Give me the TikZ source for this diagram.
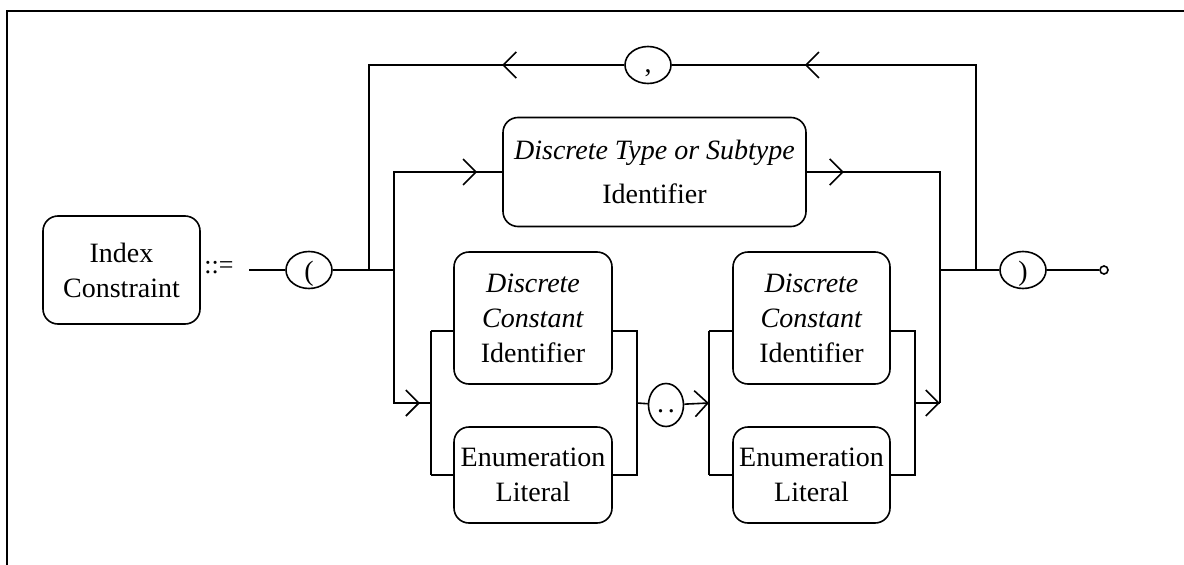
\documentclass[tikz,border=0pt]{standalone}
\usepackage{fontspec}
\setmainfont{Liberation Serif}
\usetikzlibrary{shapes, arrows.meta, positioning, calc, decorations.markings}

\tikzset{
  rail/.style={line width=1.6pt},
  synbox/.style={draw, rail, rounded corners=15pt, align=center, inner sep=0pt,
    font=\fontsize{28}{35}\selectfont},
  term/.style={draw, rail, ellipse, inner sep=0pt, minimum width=46pt, minimum height=37pt,
    font=\fontsize{28}{35}\selectfont},
  arrowat/.style={postaction={decorate}, decoration={markings,
    mark=at position #1 with {\arrow[line width=1.6pt]{Straight Barb[length=13pt, width=26pt]}}}}
}
\newcommand{\lowered}[2]{\raisebox{-#1}[\height][\depth]{#2}}

\begin{document}
\begin{tikzpicture}[x=1pt, y=-1pt]
  \useasboundingbox (0,0) rectangle (1184,565);
  \draw[line width=2.4pt] (7,565) -- (7,11) -- (1184,11);

  % left side of the rule
  \node[synbox, minimum width=157pt, minimum height=108pt] (ic) at (121.5,270) {Index\\Constraint};
  \node[font=\fontsize{26}{30}\selectfont, inner sep=0pt] (defs) at (219,268) {::=};
  \coordinate (start) at (249,270);
  \node[term] (lp) at (309,270) {\lowered{4pt}{(}};
  \node[term] (comma) at (648,65) {\lowered{8pt}{,}};
  \node[term] (rp) at (1023,270) {\lowered{4pt}{)}};
  \node[draw, rail, circle, inner sep=0pt, minimum size=8pt] (stop) at (1104,270) {};

  % alternatives
  \node[synbox, minimum width=303pt, minimum height=109pt] (dts) at (654.5,172)
    {\textit{Discrete Type or Subtype}\\[9pt]Identifier};
  \node[synbox, minimum width=158pt, minimum height=132pt] (dc1) at (533,318)
    {\textit{Discrete}\\\textit{Constant}\\Identifier};
  \node[synbox, minimum width=158pt, minimum height=96pt] (el1) at (533,475) {Enumeration\\Literal};
  \node[term, minimum width=35pt, minimum height=43pt] (dots) at (666,405) {\lowered{6pt}{.\kern4pt.}};
  \node[synbox, minimum width=157pt, minimum height=132pt] (dc2) at (811.5,318)
    {\textit{Discrete}\\\textit{Constant}\\Identifier};
  \node[synbox, minimum width=157pt, minimum height=96pt] (el2) at (811.5,475) {Enumeration\\Literal};

  \coordinate (j1) at (369,270);
  \coordinate (j2) at (394,270);
  \coordinate (jr0) at (940,403);
  \coordinate (jr1) at (940,270);
  \coordinate (jr2) at (976,270);
  \coordinate (la) at (431,403);
  \coordinate (la1) at (431,331);
  \coordinate (la2) at (431,475);
  \coordinate (lb) at (637,403);
  \coordinate (lb1) at (637,331);
  \coordinate (lb2) at (637,475);
  \coordinate (mc) at (709,403);
  \coordinate (mc1) at (709,331);
  \coordinate (mc2) at (709,475);
  \coordinate (md) at (915,403);
  \coordinate (md1) at (915,331);
  \coordinate (md2) at (915,475);

  % connectors
  \draw[rail] (start) -- (lp);
  \draw[rail] (lp) -- (j1) -- (j2);
  \draw[rail, arrowat=122pt] (comma) -- (369,65) -- (j1);
  \draw[rail, arrowat=-133pt] (jr2) -- (976,65) -- (comma);
  \draw[rail, arrowat=-25pt] (j2) |- (dts);
  \draw[rail, arrowat=37pt] (dts) -| (jr0);
  \draw[rail] (jr1) -- (jr2) -- (rp);
  \draw[rail] (rp) -- (stop);

  \draw[rail, arrowat=-11pt] (j2) |- (la);
  \draw[rail] (la1) -- (la2);
  \draw[rail] (la1) -- (dc1.west |- la1);
  \draw[rail] (la2) -- (el1);
  \draw[rail] (dc1.east |- lb1) -- (lb1) -- (lb2) -- (el1);
  \draw[rail] (lb) -- (dots);
  \draw[rail, arrowat=-0.1pt] (dots) -- (mc);
  \draw[rail] (mc1) -- (mc2);
  \draw[rail] (mc1) -- (dc2.west |- mc1);
  \draw[rail] (mc2) -- (el2);
  \draw[rail] (dc2.east |- md1) -- (md1) -- (md2) -- (el2);
  \draw[rail, arrowat=-0.1pt] (md) -- (jr0);
\end{tikzpicture}
\end{document}
